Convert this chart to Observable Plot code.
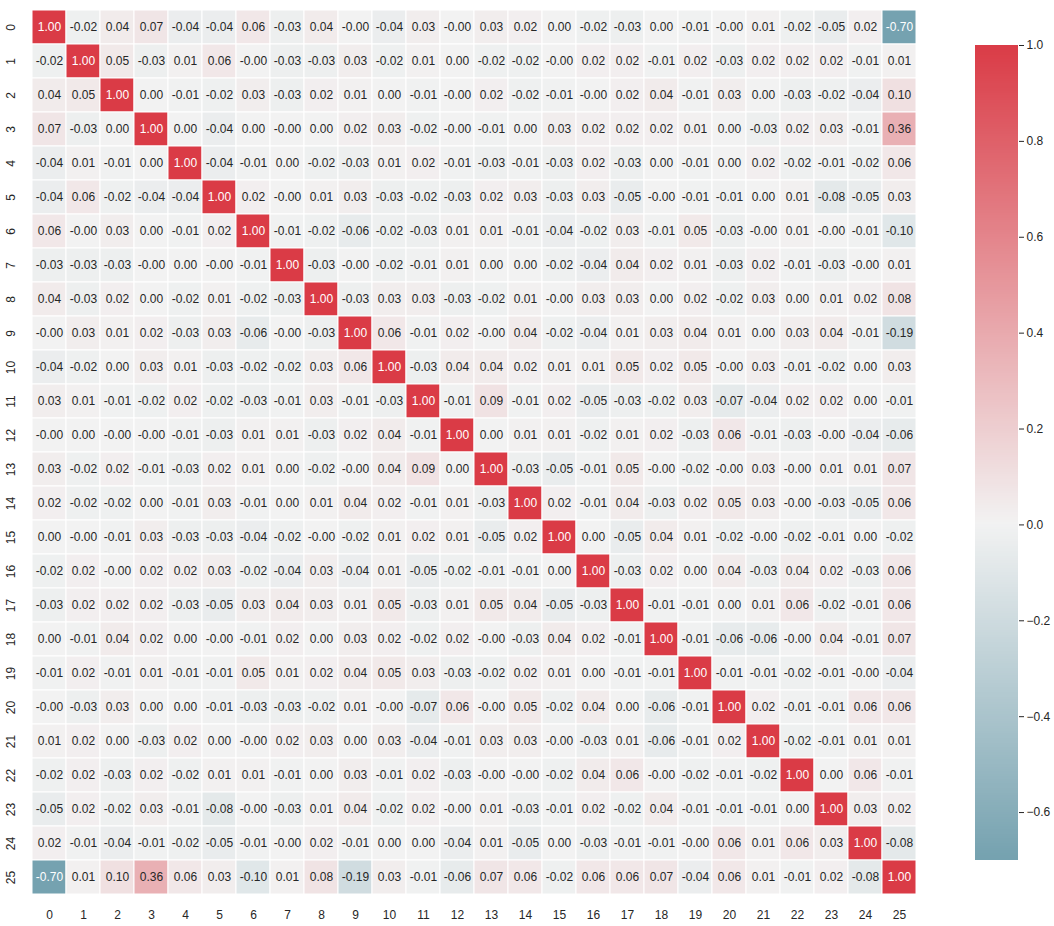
<!DOCTYPE html>
<html>
<head>
<meta charset="utf-8">
<script src="https://cdn.jsdelivr.net/npm/d3@7"></script>
<script src="https://cdn.jsdelivr.net/npm/@observablehq/plot@0.6"></script>
<style>
  html, body { margin: 0; padding: 0; background: #fff; }
  #wrap { display: flex; flex-direction: row; width: 1054px; height: 926px; }
  svg { font-family: "Liberation Sans", Arial, sans-serif; }
</style>
</head>
<body>
<div id="wrap"></div>
<script>
const labels = d3.range(26).map(String);

const corr = [
  [1.00,-0.02,0.04,0.07,-0.04,-0.04,0.06,-0.03,0.04,-0.00,-0.04,0.03,-0.00,0.03,0.02,0.00,-0.02,-0.03,0.00,-0.01,-0.00,0.01,-0.02,-0.05,0.02,-0.70],
  [-0.02,1.00,0.05,-0.03,0.01,0.06,-0.00,-0.03,-0.03,0.03,-0.02,0.01,0.00,-0.02,-0.02,-0.00,0.02,0.02,-0.01,0.02,-0.03,0.02,0.02,0.02,-0.01,0.01],
  [0.04,0.05,1.00,0.00,-0.01,-0.02,0.03,-0.03,0.02,0.01,0.00,-0.01,-0.00,0.02,-0.02,-0.01,-0.00,0.02,0.04,-0.01,0.03,0.00,-0.03,-0.02,-0.04,0.10],
  [0.07,-0.03,0.00,1.00,0.00,-0.04,0.00,-0.00,0.00,0.02,0.03,-0.02,-0.00,-0.01,0.00,0.03,0.02,0.02,0.02,0.01,0.00,-0.03,0.02,0.03,-0.01,0.36],
  [-0.04,0.01,-0.01,0.00,1.00,-0.04,-0.01,0.00,-0.02,-0.03,0.01,0.02,-0.01,-0.03,-0.01,-0.03,0.02,-0.03,0.00,-0.01,0.00,0.02,-0.02,-0.01,-0.02,0.06],
  [-0.04,0.06,-0.02,-0.04,-0.04,1.00,0.02,-0.00,0.01,0.03,-0.03,-0.02,-0.03,0.02,0.03,-0.03,0.03,-0.05,-0.00,-0.01,-0.01,0.00,0.01,-0.08,-0.05,0.03],
  [0.06,-0.00,0.03,0.00,-0.01,0.02,1.00,-0.01,-0.02,-0.06,-0.02,-0.03,0.01,0.01,-0.01,-0.04,-0.02,0.03,-0.01,0.05,-0.03,-0.00,0.01,-0.00,-0.01,-0.10],
  [-0.03,-0.03,-0.03,-0.00,0.00,-0.00,-0.01,1.00,-0.03,-0.00,-0.02,-0.01,0.01,0.00,0.00,-0.02,-0.04,0.04,0.02,0.01,-0.03,0.02,-0.01,-0.03,-0.00,0.01],
  [0.04,-0.03,0.02,0.00,-0.02,0.01,-0.02,-0.03,1.00,-0.03,0.03,0.03,-0.03,-0.02,0.01,-0.00,0.03,0.03,0.00,0.02,-0.02,0.03,0.00,0.01,0.02,0.08],
  [-0.00,0.03,0.01,0.02,-0.03,0.03,-0.06,-0.00,-0.03,1.00,0.06,-0.01,0.02,-0.00,0.04,-0.02,-0.04,0.01,0.03,0.04,0.01,0.00,0.03,0.04,-0.01,-0.19],
  [-0.04,-0.02,0.00,0.03,0.01,-0.03,-0.02,-0.02,0.03,0.06,1.00,-0.03,0.04,0.04,0.02,0.01,0.01,0.05,0.02,0.05,-0.00,0.03,-0.01,-0.02,0.00,0.03],
  [0.03,0.01,-0.01,-0.02,0.02,-0.02,-0.03,-0.01,0.03,-0.01,-0.03,1.00,-0.01,0.09,-0.01,0.02,-0.05,-0.03,-0.02,0.03,-0.07,-0.04,0.02,0.02,0.00,-0.01],
  [-0.00,0.00,-0.00,-0.00,-0.01,-0.03,0.01,0.01,-0.03,0.02,0.04,-0.01,1.00,0.00,0.01,0.01,-0.02,0.01,0.02,-0.03,0.06,-0.01,-0.03,-0.00,-0.04,-0.06],
  [0.03,-0.02,0.02,-0.01,-0.03,0.02,0.01,0.00,-0.02,-0.00,0.04,0.09,0.00,1.00,-0.03,-0.05,-0.01,0.05,-0.00,-0.02,-0.00,0.03,-0.00,0.01,0.01,0.07],
  [0.02,-0.02,-0.02,0.00,-0.01,0.03,-0.01,0.00,0.01,0.04,0.02,-0.01,0.01,-0.03,1.00,0.02,-0.01,0.04,-0.03,0.02,0.05,0.03,-0.00,-0.03,-0.05,0.06],
  [0.00,-0.00,-0.01,0.03,-0.03,-0.03,-0.04,-0.02,-0.00,-0.02,0.01,0.02,0.01,-0.05,0.02,1.00,0.00,-0.05,0.04,0.01,-0.02,-0.00,-0.02,-0.01,0.00,-0.02],
  [-0.02,0.02,-0.00,0.02,0.02,0.03,-0.02,-0.04,0.03,-0.04,0.01,-0.05,-0.02,-0.01,-0.01,0.00,1.00,-0.03,0.02,0.00,0.04,-0.03,0.04,0.02,-0.03,0.06],
  [-0.03,0.02,0.02,0.02,-0.03,-0.05,0.03,0.04,0.03,0.01,0.05,-0.03,0.01,0.05,0.04,-0.05,-0.03,1.00,-0.01,-0.01,0.00,0.01,0.06,-0.02,-0.01,0.06],
  [0.00,-0.01,0.04,0.02,0.00,-0.00,-0.01,0.02,0.00,0.03,0.02,-0.02,0.02,-0.00,-0.03,0.04,0.02,-0.01,1.00,-0.01,-0.06,-0.06,-0.00,0.04,-0.01,0.07],
  [-0.01,0.02,-0.01,0.01,-0.01,-0.01,0.05,0.01,0.02,0.04,0.05,0.03,-0.03,-0.02,0.02,0.01,0.00,-0.01,-0.01,1.00,-0.01,-0.01,-0.02,-0.01,-0.00,-0.04],
  [-0.00,-0.03,0.03,0.00,0.00,-0.01,-0.03,-0.03,-0.02,0.01,-0.00,-0.07,0.06,-0.00,0.05,-0.02,0.04,0.00,-0.06,-0.01,1.00,0.02,-0.01,-0.01,0.06,0.06],
  [0.01,0.02,0.00,-0.03,0.02,0.00,-0.00,0.02,0.03,0.00,0.03,-0.04,-0.01,0.03,0.03,-0.00,-0.03,0.01,-0.06,-0.01,0.02,1.00,-0.02,-0.01,0.01,0.01],
  [-0.02,0.02,-0.03,0.02,-0.02,0.01,0.01,-0.01,0.00,0.03,-0.01,0.02,-0.03,-0.00,-0.00,-0.02,0.04,0.06,-0.00,-0.02,-0.01,-0.02,1.00,0.00,0.06,-0.01],
  [-0.05,0.02,-0.02,0.03,-0.01,-0.08,-0.00,-0.03,0.01,0.04,-0.02,0.02,-0.00,0.01,-0.03,-0.01,0.02,-0.02,0.04,-0.01,-0.01,-0.01,0.00,1.00,0.03,0.02],
  [0.02,-0.01,-0.04,-0.01,-0.02,-0.05,-0.01,-0.00,0.02,-0.01,0.00,0.00,-0.04,0.01,-0.05,0.00,-0.03,-0.01,-0.01,-0.00,0.06,0.01,0.06,0.03,1.00,-0.08],
  [-0.70,0.01,0.10,0.36,0.06,0.03,-0.10,0.01,0.08,-0.19,0.03,-0.01,-0.06,0.07,0.06,-0.02,0.06,0.06,0.07,-0.04,0.06,0.01,-0.01,0.02,-0.08,1.00]
];

const colorbarTicks = [-0.6, -0.4, -0.2, 0.0, 0.2, 0.4, 0.6, 0.8, 1.0];
const colorDomain = [-0.7, 1.0];

const cells = [];
corr.forEach((row, i) => row.forEach((v, j) => cells.push({row: labels[i], col: labels[j], v})));

const colorScale = {
  type: "linear",
  domain: [-1, 0, 1],
  range: ["#3f7f93", "#f2f2f2", "#da3b46"],
  interpolate: "rgb",
  clamp: true
};

// keep the sign of negative zero ("-0.00") as in the reference annotations
const fmt = v => (v < 0 || Object.is(v, -0) ? "-" : "") + Math.abs(v).toFixed(2);

const heat = Plot.plot({
  width: 940,
  height: 926,
  marginLeft: 27,
  marginTop: 5,
  marginRight: 19,
  marginBottom: 27,
  style: {fontFamily: "'Liberation Sans', Arial, sans-serif", fontSize: "12px", color: "#262626", background: "white"},
  x: {domain: labels, padding: 0, axis: null},
  y: {domain: labels, padding: 0, axis: null},
  color: colorScale,
  marks: [
    Plot.cell(cells, {x: "col", y: "row", fill: "v", stroke: "white", strokeWidth: 1}),
    Plot.text(cells.filter(d => Math.abs(d.v) <= 0.5), {x: "col", y: "row", text: d => fmt(d.v), fill: "#262626", fontSize: 12}),
    Plot.text(cells.filter(d => Math.abs(d.v) > 0.5), {x: "col", y: "row", text: d => fmt(d.v), fill: "white", fontSize: 12}),
    Plot.axisX({anchor: "bottom", tickSize: 0, tickPadding: 11, fontSize: 12, label: null}),
    Plot.axisY({anchor: "left", tickSize: 0, tickPadding: 13, tickRotate: -90, fontSize: 12, label: null})
  ]
});

const stops = d3.range(-0.7, 1.0001, 0.005);
const bar = Plot.plot({
  width: 114,
  height: 926,
  marginLeft: 35,
  marginRight: 36,
  marginTop: 45,
  marginBottom: 66,
  style: {fontFamily: "'Liberation Sans', Arial, sans-serif", fontSize: "12px", color: "#262626", background: "white"},
  x: {domain: [0, 1], axis: null},
  y: {domain: colorDomain, range: [860, 45]},
  color: colorScale,
  marks: [
    Plot.rectY(stops, {x1: 0, x2: 1, y1: d => d, y2: d => Math.min(d + 0.012, 1.0), fill: d => d, shapeRendering: "crispEdges"}),
    Plot.axisY(colorbarTicks, {anchor: "right", tickSize: 5, tickPadding: 3, tickFormat: d3.format(".1f"), fontSize: 12, label: null})
  ]
});

document.getElementById("wrap").append(heat, bar);
</script>
</body>
</html>
